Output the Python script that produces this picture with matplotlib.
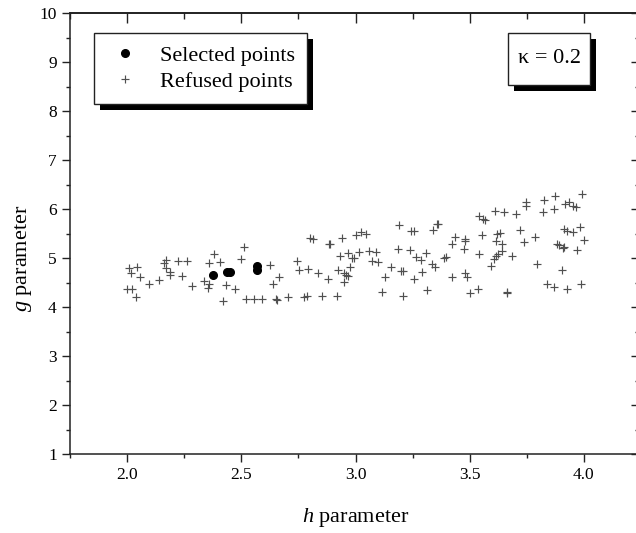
import matplotlib
matplotlib.use("Agg")
import matplotlib.pyplot as plt
import matplotlib.patheffects as pe
from matplotlib.patches import Rectangle
from matplotlib.ticker import MultipleLocator

plt.rcParams['font.family'] = ['Liberation Serif', 'DejaVu Serif']
plt.rcParams['mathtext.fontset'] = 'custom'
plt.rcParams['mathtext.rm'] = 'Liberation Serif'
plt.rcParams['mathtext.it'] = 'Liberation Serif:italic'

# Refused (h, g) pairs
h_refused = [
    2.513, 2.379, 2.499, 2.360, 2.407, 2.171, 2.163, 2.221, 2.262, 2.171,
    2.188, 2.188, 2.010, 2.044, 2.017, 2.058, 2.239, 2.138, 2.094, 2.001,
    2.020, 2.039, 2.283, 2.335, 2.357, 2.353, 2.433, 2.472, 2.421, 2.521,
    2.556, 2.591, 2.627, 2.663, 2.637, 2.652, 2.658, 2.705,
    3.191, 3.243, 3.258, 3.357, 3.363, 3.340, 2.802, 2.812, 2.882, 2.888,
    2.941, 3.004, 3.024, 3.045, 3.184, 3.238, 3.308, 3.267, 3.286, 3.395,
    3.388, 2.932, 2.965, 2.984, 2.994, 3.016, 3.060, 3.089, 3.074, 3.099,
    2.742, 2.751, 2.790, 2.838, 2.878, 2.923, 2.976, 2.948, 2.958, 2.965,
    2.948, 3.155, 3.199, 3.209, 3.290, 3.334, 3.349, 3.129, 3.257, 3.115,
    3.206, 3.311, 2.773, 2.786, 2.853, 2.921,
    3.990, 3.872, 3.824, 3.748, 3.748, 3.917, 3.935, 3.954, 3.964, 3.821,
    3.869, 3.611, 3.652, 3.702, 3.541, 3.560, 3.566, 3.436, 3.480, 3.480,
    3.424, 3.556, 3.619, 3.632, 3.614, 3.643, 3.720, 3.738, 3.785, 3.913,
    3.927, 3.952, 3.982, 4.000, 3.884, 3.891, 3.913, 3.909, 3.971, 3.476,
    3.643, 3.626, 3.617, 3.607, 3.541, 3.684, 3.592, 3.794, 3.906, 3.422,
    3.480, 3.487, 3.502, 3.538, 3.665, 3.662, 3.840, 3.869, 3.927, 3.986,
]
g_refused = [
    5.218, 5.076, 4.986, 4.904, 4.924, 4.959, 4.892, 4.939, 4.939, 4.790,
    4.720, 4.653, 4.790, 4.822, 4.700, 4.606, 4.633, 4.551, 4.469, 4.367,
    4.367, 4.198, 4.435, 4.531, 4.463, 4.394, 4.443, 4.361, 4.116, 4.169,
    4.157, 4.169, 4.857, 4.618, 4.463, 4.169, 4.143, 4.210,
    5.673, 5.557, 5.557, 5.700, 5.690, 5.571, 5.402, 5.388, 5.290, 5.280,
    5.414, 5.469, 5.524, 5.484, 5.184, 5.157, 5.096, 5.020, 4.959, 5.014,
    4.995, 5.041, 5.096, 5.006, 5.006, 5.129, 5.143, 5.116, 4.945, 4.924,
    4.945, 4.755, 4.776, 4.700, 4.565, 4.755, 4.822, 4.700, 4.653, 4.639,
    4.516, 4.810, 4.735, 4.735, 4.720, 4.878, 4.822, 4.606, 4.571, 4.312,
    4.231, 4.347, 4.198, 4.224, 4.224, 4.224,
    6.300, 6.271, 6.178, 6.137, 6.061, 6.096, 6.137, 6.061, 6.047, 5.945,
    6.000, 5.965, 5.945, 5.904, 5.863, 5.790, 5.776, 5.422, 5.388, 5.347,
    5.286, 5.469, 5.484, 5.516, 5.353, 5.286, 5.565, 5.333, 5.435, 5.592,
    5.551, 5.531, 5.627, 5.361, 5.286, 5.265, 5.231, 5.198, 5.169, 5.184,
    5.149, 5.082, 5.041, 4.973, 5.082, 5.041, 4.843, 4.871, 4.755, 4.606,
    4.688, 4.618, 4.292, 4.367, 4.300, 4.280, 4.469, 4.402, 4.367, 4.469,
]

# Selected (h, g) pairs
h_selected = [2.374, 2.437, 2.452, 2.568, 2.568]
g_selected = [4.653, 4.710, 4.720, 4.765, 4.835]

kappa_label = "\u03ba = 0.2"
legend_labels = ["Selected points", "Refused points"]

fig = plt.figure(figsize=(6.36, 5.33), dpi=100)
ax = fig.add_axes([70 / 636, 79 / 533, 571 / 636, 441 / 533])

sel, = ax.plot(h_selected, g_selected, linestyle='none', marker='o',
               markersize=5.5, color='black', zorder=3)
ref, = ax.plot(h_refused, g_refused, linestyle='none', marker='+',
               markersize=5.5, markeredgewidth=0.85, color='#505050', zorder=2)

ax.set_xlim(1.75, 4.25)
ax.set_ylim(1, 10)
ax.xaxis.set_major_locator(MultipleLocator(0.5))
ax.xaxis.set_minor_locator(MultipleLocator(0.25))
ax.yaxis.set_major_locator(MultipleLocator(1))
ax.yaxis.set_minor_locator(MultipleLocator(0.5))
ax.xaxis.set_major_formatter(plt.FuncFormatter(lambda v, p: f"{v:.1f}"))

for sp in ax.spines.values():
    sp.set_linewidth(1.1)
    sp.set_color('#222222')

ax.tick_params(which='both', direction='out', top=False, right=False,
               labelsize=12.5, color='#222222', width=1.0, pad=3.5)
ax.tick_params(which='major', length=6)
ax.tick_params(which='minor', length=3)

# inward ticks on the top and right frame
top = ax.secondary_xaxis('top')
top.xaxis.set_major_locator(MultipleLocator(0.5))
top.xaxis.set_minor_locator(MultipleLocator(0.25))
top.tick_params(which='both', direction='in', labeltop=False, width=1.0, color='#222222')
top.tick_params(which='major', length=7)
top.tick_params(which='minor', length=4)
top.spines['top'].set_linewidth(1.1)
right = ax.secondary_yaxis('right')
right.yaxis.set_major_locator(MultipleLocator(1))
right.yaxis.set_minor_locator(MultipleLocator(0.5))
right.tick_params(which='both', direction='in', labelright=False, width=1.0, color='#222222')
right.tick_params(which='major', length=7)
right.tick_params(which='minor', length=4)

ax.set_xlabel(r"$h$ parameter", fontsize=16)
ax.set_ylabel(r"$g$ parameter", fontsize=16)
ax.xaxis.set_label_coords(0.5, -0.118)
ax.yaxis.set_label_coords(-0.063, 0.443)

shadow = [pe.SimplePatchShadow(offset=(4.5, -4.5), shadow_rgbFace='black', alpha=1.0),
          pe.Normal()]

leg = ax.legend([sel, ref], legend_labels, loc='upper left',
                bbox_to_anchor=(0.042, 0.9546), borderaxespad=0,
                fontsize=16, frameon=True, fancybox=False, framealpha=1,
                edgecolor='#222222', borderpad=0.55, labelspacing=0.25,
                handlelength=1.65, handletextpad=0.75, numpoints=1)
leg.get_frame().set_linewidth(1.0)
leg.get_frame().set_path_effects(shadow)

box = Rectangle((0.767, 0.8367), 0.1436, 0.118, transform=ax.transAxes,
                facecolor='white', edgecolor='#222222', linewidth=1.0, zorder=5)
box.set_path_effects(shadow)
ax.add_patch(box)
ax.text(0.839, 0.8957, kappa_label, transform=ax.transAxes, fontsize=16,
        ha='center', va='center', zorder=6)

fig.savefig("out.png", dpi=100)
